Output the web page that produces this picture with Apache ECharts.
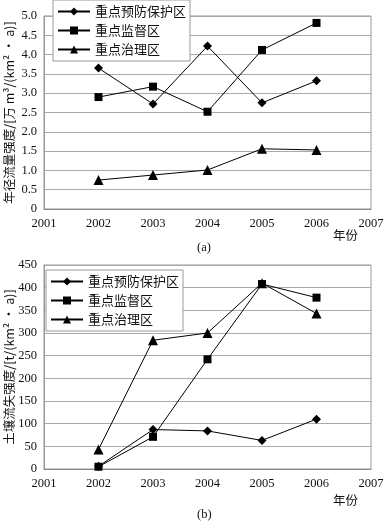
<!DOCTYPE html>
<html><head><meta charset="utf-8">
<script src="https://cdn.jsdelivr.net/npm/echarts@6/dist/echarts.min.js"></script>
<style>html,body{margin:0;padding:0;background:#fff}#c{width:384px;height:523px}</style>
</head><body><div id="c"></div>
<script>
const years = [2002, 2003, 2004, 2005, 2006];
const seriesNames = ['重点预防保护区', '重点监督区', '重点治理区'];
// (a) 年径流量强度
const runoffPrevent = [3.65, 2.72, 4.22, 2.75, 3.32];
const runoffMonitor = [2.9, 3.17, 2.52, 4.12, 4.82];
const runoffTreat = [0.75, 0.88, 1.01, 1.56, 1.53];
// (b) 土壤流失强度
const soilPrevent = [6, 87, 84, 63, 110];
const soilMonitor = [5, 71, 242, 408, 378];
const soilTreat = [43, 284, 300, 410, 343];

const serif = '"Liberation Serif","DejaVu Serif",serif';
const cjk = '"Noto Sans CJK SC","Liberation Serif",serif';
const symbols = ['diamond', 'rect', 'triangle'];
const symSizes = [9, 8, 10];
const pair = arr => years.map((y, i) => [y, arr[i]]);

function mkSeries(idx, arrs) {
  return arrs.map((a, k) => ({
    type: 'line', name: seriesNames[k], xAxisIndex: idx, yAxisIndex: idx,
    data: pair(a), symbol: symbols[k], symbolSize: symSizes[k],
    itemStyle: {color: '#000'}, lineStyle: {color: '#000', width: 1},
    animation: false
  }));
}
const xAx = idx => ({
  type: 'value', gridIndex: idx, min: 2001, max: 2007, interval: 1,
  axisLine: {lineStyle: {color: '#888'}}, axisTick: {show: false},
  splitLine: {show: false},
  axisLabel: {color: '#111', fontFamily: serif, fontSize: 12.5, margin: 8, formatter: v => String(v)}
});
const legendCfg = (left, top) => ({
  orient: 'vertical', left: left, top: top, data: seriesNames,
  itemWidth: 32, itemHeight: 10, itemGap: 6,
  borderColor: '#999', borderWidth: 1, padding: [5, 4, 5, 4],
  backgroundColor: '#fff',
  textStyle: {fontFamily: cjk, fontSize: 13, color: '#111'}
});

const chart = echarts.init(document.getElementById('c'), null, {renderer: 'canvas'});
chart.setOption({
  backgroundColor: '#fff',
  animation: false,
  grid: [
    {left: 44, top: 16, width: 327, height: 193, show: true, borderColor: '#999', borderWidth: 1, outerBoundsMode: 'none', containLabel: false},
    {left: 44, top: 265, width: 327, height: 204, show: true, borderColor: '#999', borderWidth: 1, outerBoundsMode: 'none', containLabel: false}
  ],
  xAxis: [xAx(0), xAx(1)],
  yAxis: [
    {type: 'value', gridIndex: 0, min: 0, max: 5, interval: 0.5,
     axisLine: {show: true, lineStyle: {color: '#999'}}, axisTick: {show: false},
     splitLine: {lineStyle: {color: '#aaa'}},
     axisLabel: {color: '#111', fontFamily: serif, fontSize: 12.5, margin: 7, formatter: v => v === 0 ? '0' : v.toFixed(1)},
     name: '年径流量强度/[万 m³/(km² • a)]', nameLocation: 'middle', nameRotate: 90, nameGap: 28, nameMoveOverlap: false,
     nameTextStyle: {fontFamily: cjk, fontSize: 12.5, color: '#111'}},
    {type: 'value', gridIndex: 1, min: 0, max: 450, interval: 50,
     axisLine: {show: true, lineStyle: {color: '#999'}}, axisTick: {show: false},
     splitLine: {lineStyle: {color: '#aaa'}},
     axisLabel: {color: '#111', fontFamily: serif, fontSize: 12.5, margin: 7},
     name: '土壤流失强度/[t/(km² • a)]', nameLocation: 'middle', nameRotate: 90, nameGap: 28, nameMoveOverlap: false,
     nameTextStyle: {fontFamily: cjk, fontSize: 12.5, color: '#111'}}
  ],
  legend: [legendCfg(53, 0), legendCfg(46, 270)],
  title: [
    {text: '年份', left: 333, top: 229, textStyle: {fontFamily: cjk, fontSize: 12.5, fontWeight: 'normal', color: '#111'}, padding: 0},
    {text: '(a)', left: 197, top: 241, textStyle: {fontFamily: serif, fontSize: 12.5, fontWeight: 'normal', color: '#111'}, padding: 0},
    {text: '年份', left: 333, top: 494, textStyle: {fontFamily: cjk, fontSize: 12.5, fontWeight: 'normal', color: '#111'}, padding: 0},
    {text: '(b)', left: 197, top: 508, textStyle: {fontFamily: serif, fontSize: 12.5, fontWeight: 'normal', color: '#111'}, padding: 0}
  ],
  series: [].concat(
    mkSeries(0, [runoffPrevent, runoffMonitor, runoffTreat]),
    mkSeries(1, [soilPrevent, soilMonitor, soilTreat])
  )
});
</script></body></html>
